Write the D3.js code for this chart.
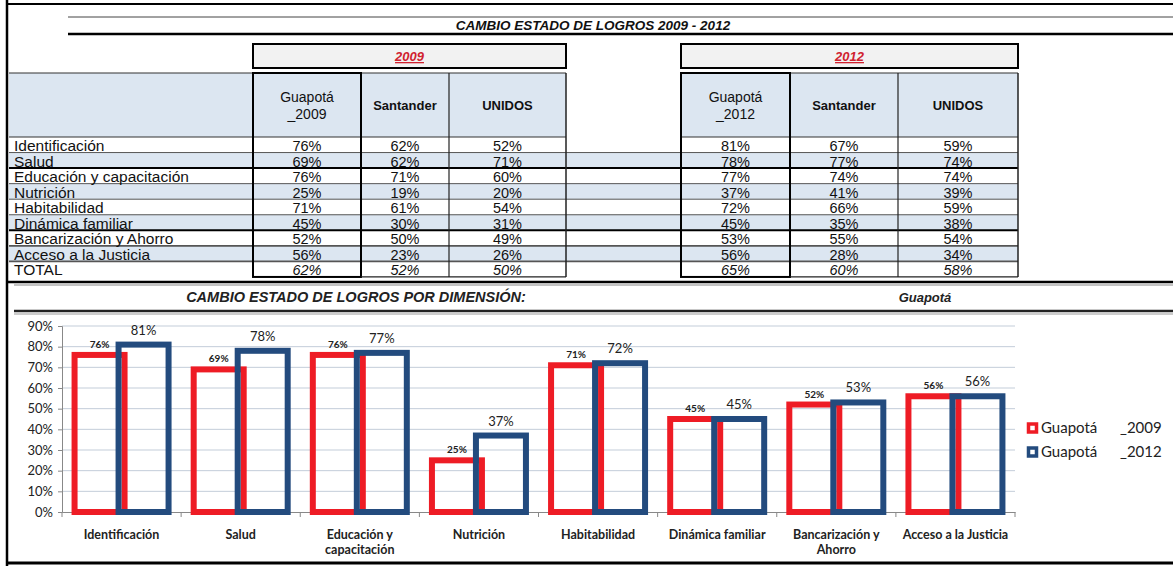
<!DOCTYPE html>
<html>
<head>
<meta charset="utf-8">
<script src="https://cdn.jsdelivr.net/npm/d3@7"></script>
<style>
  body { margin: 0; background: #fff; }
  svg { display: block; }
  .tbl { font-family: "Liberation Sans", Arial, sans-serif; }
  .chart { font-family: Lato, "Open Sans", sans-serif; }
</style>
</head>
<body>
<svg id="sheet" width="1173" height="566"></svg>
<script>
// ---- data ----
let dimensions = ["Identificación", "Salud", "Educación y capacitación", "Nutrición",
  "Habitabilidad", "Dinámica familiar", "Bancarización y Ahorro", "Acceso a la Justicia"];
let chartLabels = [["Identificación"], ["Salud"], ["Educación y", "capacitación"], ["Nutrición"],
  ["Habitabilidad"], ["Dinámica familiar"], ["Bancarización y", "Ahorro"], ["Acceso a la Justicia"]];

let guapota2009   = [76, 69, 76, 25, 71, 45, 52, 56];
let santander2009 = [62, 62, 71, 19, 61, 30, 50, 23];
let unidos2009    = [52, 71, 60, 20, 54, 31, 49, 26];
let totals2009    = [62, 52, 50];

let guapota2012   = [81, 78, 77, 37, 72, 45, 53, 56];
let santander2012 = [67, 77, 74, 41, 66, 35, 55, 28];
let unidos2012    = [59, 74, 74, 39, 59, 38, 54, 34];
let totals2012    = [65, 60, 58];

let seriesNames = ["Guapotá _2009", "Guapotá _2012"];
let yTicks = [0, 10, 20, 30, 40, 50, 60, 70, 80, 90];

let svg = d3.select("#sheet");
let red = "#ee1c25", blue = "#234b7e", hdr = "#dce6f1";

// ---- frame and title ----
function line(x1, y1, x2, y2, w, c) {
  svg.append("line").attr("x1", x1).attr("y1", y1).attr("x2", x2).attr("y2", y2)
    .attr("stroke", c || "#000").attr("stroke-width", w);
}
line(7, 0, 7, 566, 2.5);
line(7, 4, 1173, 4, 2);
line(68, 17, 1173, 17, 1, "#444");
line(68, 34, 1173, 34, 2.5);
svg.append("text").attr("class", "tbl")
  .attr("x", 593).attr("y", 30).attr("text-anchor", "middle")
  .style("font-size", "13.5px").style("font-weight", "bold").style("font-style", "italic")
  .attr("fill", "#111").text("CAMBIO ESTADO DE LOGROS 2009 - 2012");

// ---- tables ----
let rowTop = 137, rowH = 15.55, hdrTop = 73;
let rowCount = dimensions.length + 1;
let tblBottom = rowTop + rowH * rowCount;

let tables = [
  { year: "2009", cols: [253, 361, 449, 566], head: ["Guapotá", "_2009"],
    series: [guapota2009, santander2009, unidos2009], totals: totals2009 },
  { year: "2012", cols: [681, 790, 898, 1018], head: ["Guapotá", "_2012"],
    series: [guapota2012, santander2012, unidos2012], totals: totals2012 }
];

// row backgrounds (alternating band across both tables)
dimensions.concat(["TOTAL"]).forEach((d, i) => {
  if (i % 2 === 1) {
    svg.append("rect").attr("x", 9).attr("y", rowTop + i * rowH)
      .attr("width", 1018 - 9).attr("height", rowH).attr("fill", hdr);
  }
});
// header backgrounds
svg.append("rect").attr("x", 9).attr("y", hdrTop).attr("width", 566 - 9)
  .attr("height", rowTop - hdrTop).attr("fill", hdr);
svg.append("rect").attr("x", 681).attr("y", hdrTop).attr("width", 1018 - 681)
  .attr("height", rowTop - hdrTop).attr("fill", hdr);

// row separators
for (let i = 1; i < rowCount; i++) {
  let y = rowTop + i * rowH;
  let heavy = i === 2 || i === 6;
  let mid = i === 7 || i === 8;
  line(9, y, 1018, y, heavy ? 2 : (mid ? 1.6 : 1), heavy ? "#000" : "#555");
}
line(9, hdrTop, 566, hdrTop, 1.2, "#333");
line(681, hdrTop, 1018, hdrTop, 1.2, "#333");
line(9, rowTop, 566, rowTop, 1.2, "#333");
line(681, rowTop, 1018, rowTop, 1.2, "#333");

// row labels
dimensions.concat(["TOTAL"]).forEach((d, i) => {
  svg.append("text").attr("class", "tbl")
    .attr("x", 14).attr("y", rowTop + (i + 1) * rowH - 1.5)
    .style("font-size", "15.5px").attr("fill", "#111").text(d);
});

tables.forEach(t => {
  let c = t.cols;
  // year box
  svg.append("rect").attr("x", c[0]).attr("y", 44).attr("width", c[3] - c[0]).attr("height", 24)
    .attr("fill", "#f2f2f2").attr("stroke", "#000").attr("stroke-width", 2);
  svg.append("text").attr("class", "tbl")
    .attr("x", (c[0] + c[3]) / 2).attr("y", 61).attr("text-anchor", "middle")
    .style("font-size", "13px").style("font-weight", "bold").style("font-style", "italic")
    .style("text-decoration", "underline").attr("fill", "#d0212f").text(t.year);

  // column lines
  line(c[1], hdrTop, c[1], tblBottom, 2);
  line(c[2], hdrTop, c[2], tblBottom, 1.2, "#222");
  line(c[3], hdrTop, c[3], tblBottom, 1.5, "#222");
  svg.append("rect").attr("x", c[0]).attr("y", hdrTop).attr("width", c[1] - c[0])
    .attr("height", tblBottom - hdrTop).attr("fill", "none")
    .attr("stroke", "#000").attr("stroke-width", 2);
  line(c[1], tblBottom, c[3], tblBottom, 1.2, "#222");

  // header text
  let cx = [0, 1, 2].map(k => (c[k] + c[k + 1]) / 2);
  svg.append("text").attr("class", "tbl").attr("x", cx[0]).attr("y", 102)
    .attr("text-anchor", "middle").style("font-size", "14px").attr("fill", "#111").text(t.head[0]);
  svg.append("text").attr("class", "tbl").attr("x", cx[0]).attr("y", 119)
    .attr("text-anchor", "middle").style("font-size", "14px").attr("fill", "#111").text(t.head[1]);
  ["Santander", "UNIDOS"].forEach((h, k) => {
    svg.append("text").attr("class", "tbl").attr("x", cx[k + 1]).attr("y", 110)
      .attr("text-anchor", "middle").style("font-size", "13px").style("font-weight", "bold")
      .attr("fill", "#111").text(h);
  });

  // values
  t.series.forEach((s, k) => {
    s.concat([t.totals[k]]).forEach((v, i) => {
      svg.append("text").attr("class", "tbl")
        .attr("x", cx[k]).attr("y", rowTop + (i + 1) * rowH - 1.5)
        .attr("text-anchor", "middle").style("font-size", "14.5px")
        .style("font-style", i === dimensions.length ? "italic" : "normal")
        .attr("fill", "#111").text(v + "%");
    });
  });
});

// ---- chart section header ----
line(7, 282, 1173, 282, 2.5);
line(14, 285, 1173, 285, 1, "#888");
svg.append("text").attr("class", "tbl").attr("x", 356).attr("y", 302)
  .attr("text-anchor", "middle").style("font-size", "14.5px").style("font-weight", "bold")
  .style("font-style", "italic").attr("fill", "#222").text("CAMBIO ESTADO DE LOGROS POR DIMENSIÓN:");
svg.append("text").attr("class", "tbl").attr("x", 925).attr("y", 302)
  .attr("text-anchor", "middle").style("font-size", "13px").style("font-weight", "bold")
  .style("font-style", "italic").attr("fill", "#222").text("Guapotá");
line(14, 311, 1173, 311, 2.5, "#222");
line(14, 314, 1173, 314, 1, "#999");
line(7, 563, 1173, 563, 3);

// ---- bar chart ----
let x = d3.scaleBand().domain(dimensions).range([62, 1015]);
let y = d3.scaleLinear().domain([0, 90]).range([512, 326]);
let sub = d3.scalePoint().domain(seriesNames).range([-22, 22]);
let barW = 50;

let chart = svg.append("g").attr("class", "chart");

chart.append("g").selectAll("line").data(yTicks.slice(1)).join("line")
  .attr("x1", 62).attr("x2", 1015)
  .attr("y1", d => y(d)).attr("y2", d => y(d))
  .attr("stroke", "#c3cdd9").attr("stroke-width", 1);

let yAxis = chart.append("g").attr("transform", "translate(62,0)")
  .call(d3.axisLeft(y).tickValues(yTicks).tickFormat(d => d + "%").tickSize(4).tickPadding(5));
yAxis.select(".domain").attr("stroke", "#888");
yAxis.selectAll(".tick line").attr("stroke", "#888");
yAxis.selectAll("text").style("font-size", "13px").attr("fill", "#222")
  .style("font-family", "Lato, sans-serif");

let xAxis = chart.append("g").attr("transform", "translate(0,512)")
  .call(d3.axisBottom(x).tickSize(0).tickFormat(""));
xAxis.select(".domain").attr("stroke", "#888");
chart.append("g").selectAll("line").data(d3.range(dimensions.length + 1)).join("line")
  .attr("x1", i => 62 + i * x.step()).attr("x2", i => 62 + i * x.step())
  .attr("y1", 512).attr("y2", 517).attr("stroke", "#888");

// category labels
dimensions.forEach((d, i) => {
  let t = chart.append("text").attr("x", x(d) + x.bandwidth() / 2).attr("y", 539)
    .attr("text-anchor", "middle").style("font-size", "12.5px").style("font-weight", "bold")
    .attr("fill", "#222");
  chartLabels[i].forEach((l, j) => {
    t.append("tspan").attr("x", x(d) + x.bandwidth() / 2).attr("dy", j ? 15 : 0).text(l);
  });
});

let barData = [
  { name: seriesNames[0], values: guapota2009, color: red },
  { name: seriesNames[1], values: guapota2012, color: blue }
];

barData.forEach(s => {
  chart.append("g").selectAll("rect").data(dimensions).join("rect")
    .attr("x", (d, i) => x(d) + x.bandwidth() / 2 + sub(s.name) - barW / 2)
    .attr("y", (d, i) => y(s.values[i]))
    .attr("width", barW)
    .attr("height", (d, i) => y(0) - y(s.values[i]))
    .attr("fill", "none").attr("stroke", s.color).attr("stroke-width", 6);
});

// value labels
barData.forEach((s, k) => {
  chart.append("g").selectAll("text").data(dimensions).join("text")
    .attr("x", (d, i) => x(d) + x.bandwidth() / 2 + sub(s.name))
    .attr("y", (d, i) => y(s.values[i]) - (k ? 10 : 7))
    .attr("text-anchor", "middle")
    .style("font-size", k ? "13px" : "10px")
    .style("font-weight", k ? "normal" : "bold")
    .attr("fill", "#222")
    .text((d, i) => s.values[i] + "%");
});

// legend
barData.forEach((s, k) => {
  let ly = 428 + k * 24;
  chart.append("rect").attr("x", 1028.5).attr("y", ly - 4).attr("width", 8).attr("height", 8)
    .attr("fill", "#fff").attr("stroke", s.color).attr("stroke-width", 3.5);
  chart.append("text").attr("x", 1041).attr("y", ly + 5).style("font-size", "15px")
    .attr("fill", "#222").text("Guapotá");
  chart.append("text").attr("x", 1120).attr("y", ly + 5).style("font-size", "15px")
    .attr("fill", "#222").text(k ? "_2012" : "_2009");
});
</script>
</body>
</html>
